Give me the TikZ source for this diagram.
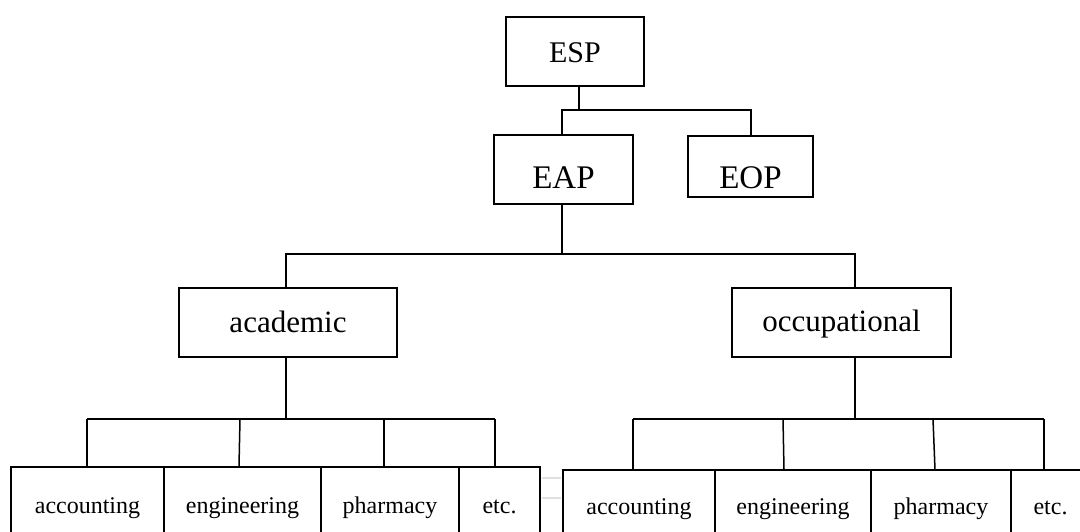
\documentclass[tikz,border=0pt]{standalone}
\usepackage{fontspec}
\setmainfont{Liberation Serif}
\usetikzlibrary{calc}
\begin{document}
\begin{tikzpicture}[x=1pt,y=-1pt,
  box/.style={draw, line width=1.5pt, inner sep=0pt, anchor=center, align=center},
  big/.style={box, font=\fontsize{33}{38}\selectfont},
  mid/.style={box, font=\fontsize{31}{36}\selectfont, minimum height=69},
  small/.style={box, font=\fontsize{24}{28}\selectfont, text height=12pt, text depth=10pt},
  conn/.style={line width=1.5pt},
  faint/.style={line width=1.8pt, draw=black!12}]
\useasboundingbox (0,0) rectangle (1080,532);
\clip (0,0) rectangle (1080,532);

% top level
\node[box, font=\fontsize{30}{36}\selectfont, minimum width=138, minimum height=69,
      text height=24pt, text depth=1.6pt] (ESP) at (575,51.5) {ESP};
\node[big, minimum width=139, minimum height=69, text height=38pt, text depth=0.4pt] (EAP) at (563.5,169.5) {EAP};
\node[big, minimum width=125, minimum height=61, text height=44pt, text depth=0.4pt] (EOP) at (750.5,166.5) {EOP};

% second level
\node[mid, minimum width=218, text height=22pt, text depth=1.6pt] (acad) at (288,322.5) {academic};
\node[mid, minimum width=219, text height=21pt, text depth=2.6pt] (occ) at (841.5,322.5) {occupational};

% bottom left
\node[small, minimum width=153, minimum height=90] (accL) at (87.5,512) {accounting};
\node[small, minimum width=157, minimum height=90] (engL) at (242.5,512) {engineering};
\node[small, minimum width=138, minimum height=90] (phL) at (390,512) {pharmacy};
\node[small, minimum width=81, minimum height=90] (etcL) at (499.5,512) {etc.};

% bottom right
\node[small, minimum width=152, minimum height=86] (accR) at (639,513) {accounting};
\node[small, minimum width=156, minimum height=86] (engR) at (793,513) {engineering};
\node[small, minimum width=140, minimum height=86] (phR) at (941,513) {pharmacy};
\node[small, minimum width=79, minimum height=86] (etcR) at (1050.5,513) {etc.};

% connectors top
\coordinate (j1) at (579,110);
\draw[conn] (ESP.south -| j1) -- (j1);
\draw[conn] ([xshift=-1.5pt]EAP.north) |- (j1) -| ([xshift=0.5pt]EOP.north);

\coordinate (j2) at (562,254);
\draw[conn] ([xshift=-1.5pt]EAP.south) -- (j2);
\draw[conn] ([xshift=-2pt]acad.north) |- (j2) -| ([xshift=13.5pt]occ.north);

% academic branch
\coordinate (j3) at (286,419);
\draw[conn] ([xshift=-2pt]acad.south) -- (j3);
\coordinate (l1) at (87,419);
\coordinate (l2) at (240,419);
\coordinate (l3) at (384,419);
\coordinate (l4) at (495,419);
\draw[conn] (l1) -- (l4);
\draw[conn] (l1) -- (l1 |- accL.north);
\draw[conn] (l2) -- ($(l2 |- engL.north)+(-1,0)$);
\draw[conn] (l3) -- (l3 |- phL.north);
\draw[conn] (l4) -- (l4 |- etcL.north);

% occupational branch
\coordinate (j4) at (855,419);
\draw[conn] ([xshift=13.5pt]occ.south) -- (j4);
\coordinate (r1) at (633,419);
\coordinate (r2) at (783,419);
\coordinate (r3) at (933,419);
\coordinate (r4) at (1044,419);
\draw[conn] (r1) -- (r4);
\draw[conn] (r1) -- (r1 |- accR.north);
\draw[conn] (r2) -- ($(r2 |- engR.north)+(1,0)$);
\draw[conn] (r3) -- ($(r3 |- phR.north)+(2,0)$);
\draw[conn] (r4) -- (r4 |- etcR.north);

% faint marks between the two groups
\coordinate (g1) at (0,478);
\coordinate (g2) at (0,498);
\draw[faint] ($(etcL.east |- g1)+(1,0)$) -- ($(accR.west |- g1)+(-1,0)$);
\draw[faint] ($(etcL.east |- g2)+(1,0)$) -- ($(accR.west |- g2)+(-1,0)$);
\end{tikzpicture}
\end{document}
